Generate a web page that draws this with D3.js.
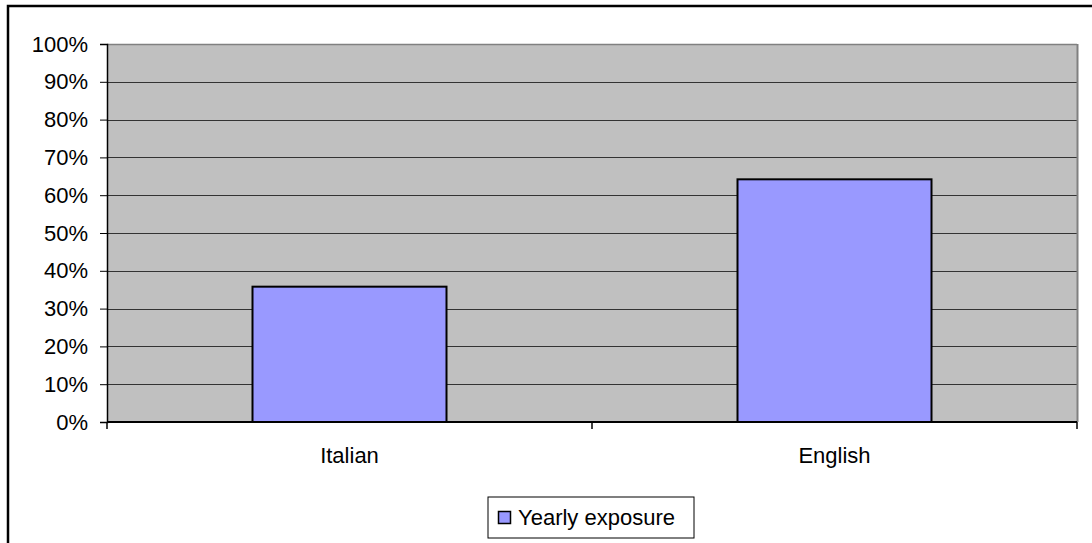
<!DOCTYPE html>
<html>
  <head>
    <meta charset="utf-8">
    <title>Yearly exposure</title>
    <script src="https://d3js.org/d3.v7.min.js" charset="utf-8"></script>
    <style>
      body { margin: 0; background: #fff; }
      text { font-family: "Liberation Sans", Arial, sans-serif; fill: #000; }
    </style>
  </head>
  <body>
    <div id="chart"></div>
    <script>
      const languages = ["Italian", "English"];
      const exposure = [0.358, 0.642];
      const yTicks = [0, 0.1, 0.2, 0.3, 0.4, 0.5, 0.6, 0.7, 0.8, 0.9, 1.0];
      const seriesName = "Yearly exposure";

      const outerWidth = 1092;
      const outerHeight = 543;
      const margin = { top: 44, right: 15, bottom: 121, left: 107 };
      const width = outerWidth - margin.left - margin.right;
      const height = outerHeight - margin.top - margin.bottom;
      const fontSize = 22;

      const svg = d3.select("#chart")
        .append("svg")
        .attr("width", outerWidth)
        .attr("height", outerHeight);

      // chart border (runs off the right and bottom edge)
      svg.append("rect")
        .attr("x", 8)
        .attr("y", 6)
        .attr("width", outerWidth + 20)
        .attr("height", outerHeight + 20)
        .attr("fill", "none")
        .attr("stroke", "#000")
        .attr("stroke-width", 2.5);

      const g = svg.append("g")
        .attr("transform", "translate(" + margin.left + "," + margin.top + ")");

      const x = d3.scaleBand().domain(languages).range([0, width]).padding(0);
      const y = d3.scaleLinear().domain([0, 1]).range([height, 0]);

      g.append("rect")
        .attr("width", width)
        .attr("height", height)
        .attr("fill", "#c0c0c0");

      // gridlines
      g.append("g")
        .selectAll("line")
        .data(yTicks.filter(d => d > 0))
        .join("line")
        .attr("x1", 0)
        .attr("x2", width)
        .attr("y1", d => Math.round(y(d)) + 0.5)
        .attr("y2", d => Math.round(y(d)) + 0.5)
        .attr("stroke", "#333")
        .attr("stroke-width", 1);

      // plot area border (right side gray)
      g.append("line")
        .attr("x1", width + 0.5).attr("x2", width + 0.5)
        .attr("y1", 0).attr("y2", height)
        .attr("stroke", "#808080")
        .attr("stroke-width", 2);
      g.append("line")
        .attr("x1", 0).attr("x2", width)
        .attr("y1", 0.5).attr("y2", 0.5)
        .attr("stroke", "#808080")
        .attr("stroke-width", 1.5);

      // bars
      const barWidth = x.bandwidth() * 0.4;
      g.selectAll(".bar")
        .data(languages)
        .join("rect")
        .attr("class", "bar")
        .attr("x", d => x(d) + (x.bandwidth() - barWidth) / 2)
        .attr("y", (d, i) => y(exposure[i]))
        .attr("width", barWidth)
        .attr("height", (d, i) => height - y(exposure[i]))
        .attr("fill", "#9999ff")
        .attr("stroke", "#000")
        .attr("stroke-width", 2);

      // y axis
      const yAxis = d3.axisLeft(y)
        .tickValues(yTicks)
        .tickFormat(d3.format(".0%"))
        .tickSize(7)
        .tickPadding(12);
      const ya = g.append("g").call(yAxis);
      ya.select(".domain").attr("stroke", "#000").attr("stroke-width", 1.5);
      ya.selectAll(".tick line").attr("stroke", "#000");
      ya.selectAll("text")
        .style("font-size", fontSize + "px")
        .style("font-family", "'Liberation Sans', Arial, sans-serif")
        .attr("fill", "#000");

      // x axis: ticks at band edges
      const xa = g.append("g").attr("transform", "translate(0," + height + ")");
      xa.append("line")
        .attr("x1", 0).attr("x2", width)
        .attr("y1", 0).attr("y2", 0)
        .attr("stroke", "#000")
        .attr("stroke-width", 2);
      const edges = languages.map(d => x(d)).concat([width]);
      xa.selectAll(".edge")
        .data(edges)
        .join("line")
        .attr("class", "edge")
        .attr("x1", d => d).attr("x2", d => d)
        .attr("y1", 0).attr("y2", 7)
        .attr("stroke", "#000")
        .attr("stroke-width", 1.5);
      xa.selectAll(".lbl")
        .data(languages)
        .join("text")
        .attr("class", "lbl")
        .attr("x", d => x(d) + x.bandwidth() / 2)
        .attr("y", 41)
        .attr("text-anchor", "middle")
        .style("font-size", fontSize + "px")
        .text(d => d);

      // legend
      const legend = svg.append("g").attr("transform", "translate(488,497)");
      legend.append("rect")
        .attr("width", 206)
        .attr("height", 41)
        .attr("fill", "#fff")
        .attr("stroke", "#000")
        .attr("stroke-width", 1);
      legend.append("rect")
        .attr("x", 10.5)
        .attr("y", 14.5)
        .attr("width", 12)
        .attr("height", 12)
        .attr("fill", "#9999ff")
        .attr("stroke", "#000")
        .attr("stroke-width", 1.5);
      legend.append("text")
        .attr("x", 30)
        .attr("y", 28)
        .style("font-size", fontSize + "px")
        .text(seriesName);
    </script>
  </body>
</html>
